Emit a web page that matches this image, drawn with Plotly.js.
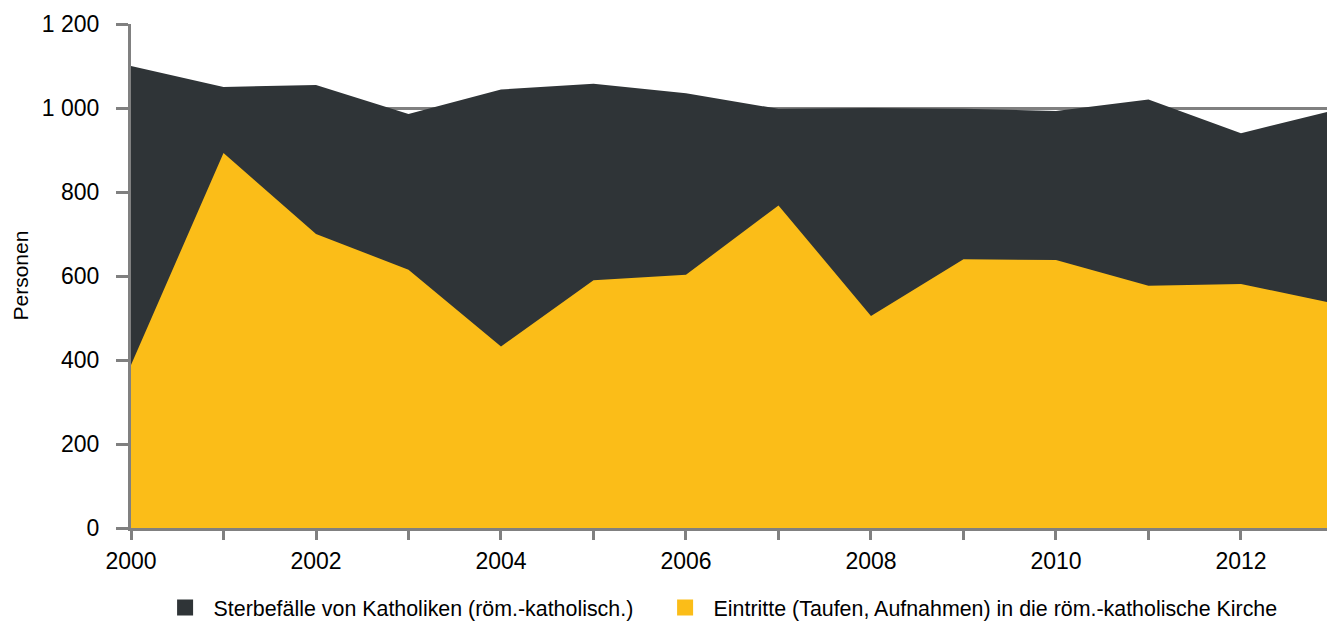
<!DOCTYPE html>
<html>
<head>
<meta charset="utf-8">
<script src="https://cdn.plot.ly/plotly-3.0.1.min.js"></script>
<style>html,body{margin:0;padding:0;background:#fff;}#chart{width:1327px;height:628px;}</style>
</head>
<body>
<div id="chart"></div>
<script>
const years = [2000, 2001, 2002, 2003, 2004, 2005, 2006, 2007, 2008, 2009, 2010, 2011, 2012, 2013];
const sterbefaelle = [1100, 1050, 1055, 986, 1044, 1058, 1035, 998, 1000, 998, 993, 1020, 940, 994];
const eintritte = [388, 893, 700, 615, 432, 590, 603, 768, 505, 640, 638, 577, 581, 535];
const seriesNames = ["Sterbefälle von Katholiken (röm.-katholisch.)", "Eintritte (Taufen, Aufnahmen) in die röm.-katholische Kirche"];
const yTicks = [0, 200, 400, 600, 800, 1000, 1200];
const xTicks = [2000, 2002, 2004, 2006, 2008, 2010, 2012];
const colors = ['rgb(47,52,55)', 'rgb(251,189,24)'];

const traces = [
  {x: years, y: sterbefaelle, name: seriesNames[0], type: 'scatter', mode: 'lines', fill: 'tozeroy',
   fillcolor: colors[0], line: {width: 0, color: colors[0]}, showlegend: false},
  {x: years, y: eintritte, name: seriesNames[1], type: 'scatter', mode: 'lines', fill: 'tozeroy',
   fillcolor: colors[1], line: {width: 0, color: colors[1]}, showlegend: false},
  // legend entries (no data points)
  {x: [null], y: [null], name: seriesNames[0], type: 'scatter', mode: 'markers',
   marker: {symbol: 'square', size: 18, color: colors[0]}, showlegend: true, legend: 'legend'},
  {x: [null], y: [null], name: seriesNames[1], type: 'scatter', mode: 'markers',
   marker: {symbol: 'square', size: 18, color: colors[1]}, showlegend: true, legend: 'legend2'}
];

const legendBase = {orientation: 'h', xref: 'container', yref: 'container', xanchor: 'left',
                    y: 0, yanchor: 'bottom', font: {size: 21.4}, itemwidth: 47};

const layout = {
  width: 1327, height: 628,
  margin: {l: 131, r: 0, t: 24, b: 100, autoexpand: false},
  paper_bgcolor: '#fff', plot_bgcolor: '#fff',
  font: {family: 'Liberation Sans, Arial, sans-serif', color: '#000', size: 23},
  separators: '. ',
  showlegend: true,
  legend: Object.assign({x: 0.118}, legendBase),
  legend2: Object.assign({x: 0.4948}, legendBase),
  xaxis: {range: [2000, 2012.93], tickvals: xTicks, ticktext: xTicks.map(String),
          showgrid: false, zeroline: false, showline: true, linecolor: '#808080', linewidth: 3,
          ticks: 'outside', ticklen: 9, tickwidth: 3, tickcolor: '#808080',
          minor: {ticks: 'outside', ticklen: 9, tickwidth: 3, tickcolor: '#808080', dtick: 1, tick0: 2000},
          tickfont: {size: 23}, ticklabelstandoff: 1, automargin: false, fixedrange: true},
  yaxis: {range: [0, 1200], tickvals: yTicks, tickformat: ',d',
          showgrid: true, gridcolor: '#808080', gridwidth: 3, zeroline: false,
          showline: true, linecolor: '#808080', linewidth: 3,
          ticks: 'outside', ticklen: 12, tickwidth: 3, tickcolor: '#808080',
          tickfont: {size: 23}, ticklabelstandoff: 12, automargin: false, fixedrange: true},
  annotations: [{text: 'Personen', xref: 'paper', yref: 'paper', x: -0.0932, y: 0.5,
                 xanchor: 'center', yanchor: 'middle', textangle: -90, showarrow: false,
                 font: {size: 21, color: '#000'}}]
};

Plotly.newPlot('chart', traces, layout, {displayModeBar: false, staticPlot: true});
</script>
</body>
</html>
